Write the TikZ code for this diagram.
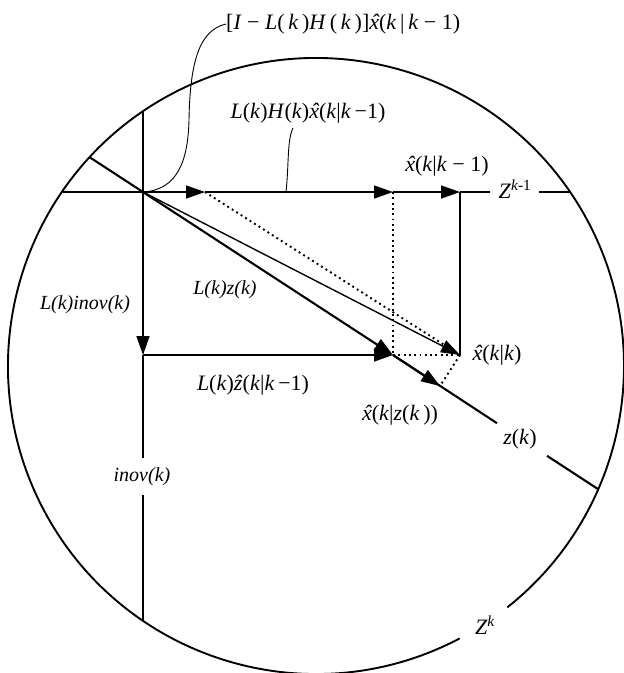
\documentclass[tikz,border=0pt]{standalone}
\usepackage{fontspec}
\setmainfont{Liberation Serif}
\usetikzlibrary{arrows.meta}
\newcommand{\xh}{{\itshape\ooalign{x\cr\hidewidth\kern0.06em\char"02C6\hidewidth\cr}}}
\newcommand{\zh}{\textit{\^{z}}}
\newcommand{\iv}[1]{\textit{#1}}
\tikzset{
  lbl/.style={inner sep=0pt, font=\fontsize{22}{26}\selectfont},
  ilbl/.style={inner sep=0pt, font=\fontsize{20}{24}\selectfont\itshape},
  tip/.style={-{Triangle[length=19pt,width=13pt]}},
  plain/.style={line width=1.4pt},
  vec/.style={plain, tip},
  heavy/.style={line width=2.1pt},
  dots/.style={line width=1.9pt, dash pattern=on 1.9pt off 3.4pt},
  leader/.style={line width=0.9pt},
  rim/.style={line width=1.9pt}
}
\begin{document}
\begin{tikzpicture}[x=1pt,y=-1pt]
\useasboundingbox (0,0) rectangle (624,673);
% the set Z^k (circle with a gap for its label)
\coordinate (ctr) at (316,366);
\draw[rim] (ctr) ++(62.2:308) arc[start angle=62.2, end angle=411.6, radius=308];
% points
\coordinate (O) at (143,192);
\coordinate (A) at (205,192);
\coordinate (B) at (393,192);
\coordinate (C) at (460,192);
\coordinate (D) at (143,355);
\coordinate (P) at (393,355);
\coordinate (Q) at (460,355);
\coordinate (R) at (440,386);
\coordinate (Hl) at (63,192);
\coordinate (Hm) at (490,192);
\coordinate (Hn) at (539,192);
\coordinate (Hr) at (570,192);
\coordinate (Vt) at (143,112);
\coordinate (Vg1) at (143,458);
\coordinate (Vg2) at (143,495);
\coordinate (Vb) at (143,621);
\coordinate (Zul) at (89.6,157.2);
\coordinate (Z1) at (497,423.2);
\coordinate (Z2) at (547,455.8);
\coordinate (Z3) at (598.2,489.2);
% Z^{k-1} line
\draw[plain] (Hl) -- (O);
\draw[vec] (O) -- (A);
\draw[vec] (A) -- (B);
\draw[vec] (B) -- (C);
\draw[plain] (C) -- (Hm);
\draw[plain] (Hn) -- (Hr);
% inov line
\draw[plain] (Vt) -- (O);
\draw[vec] (O) -- (D);
\draw[plain] (D) -- (Vg1);
\draw[plain] (Vg2) -- (Vb);
\draw[vec] (D) -- (P);
% z(k) line
\draw[heavy] (Zul) -- (O);
\draw[heavy, tip] (O) -- (P);
\draw[heavy] (P) -- (Z1);
\draw[heavy] (Z2) -- (Z3);
\draw[heavy, tip] (P) -- (R);
% estimate
\draw[vec] (O) -- (Q);
\draw[plain] (C) -- (Q);
% dotted construction lines
\draw[dots] (A) -- (Q);
\draw[dots] (B) -- (P);
\draw[dots] (P) -- (Q);
\draw[dots] (Q) -- (R);
% labels
\node[lbl, anchor=west] (l1) at (226,24) {[\iv{I} − \iv{L}(\,\iv{k}\,)\iv{H}\,(\,\iv{k}\,)]\xh(\iv{k}\,|\,\iv{k} − 1)};
\node[lbl] (l2) at (308,113) {\iv{L}(\iv{k})\iv{H}(\iv{k})\xh(\iv{k}|\iv{k}\,−1)};
\node[lbl] (l3) at (447,166) {\xh(\iv{k}|\iv{k} − 1)};
\node[lbl] (l4) at (515,189) {\iv{Z}\textsuperscript{\iv{k}-1}};
\node[ilbl] (l5) at (85,305) {L(k)inov(k)};
\node[ilbl] (l6) at (225,290) {L(k)z(k)};
\node[lbl] (l7) at (253,385) {\iv{L}(\iv{k})\zh(\iv{k}|\iv{k}\,−1)};
\node[lbl] (l8) at (497,355) {\xh(\iv{k}|\iv{k})};
\node[lbl] (l9) at (400,415) {\xh(\iv{k}|\iv{z}(\iv{k}\,))};
\node[lbl] (l10) at (520,439) {\iv{z}(\iv{k})};
\node[ilbl] (l11) at (142,477) {inov(k)};
\node[lbl] (l12) at (485,625) {\iv{Z}\textsuperscript{\iv{k}}};
% leaders
\draw[leader] (O) .. controls (178,190) and (188,160) .. (189,120) .. controls (190,60) and (200,30) .. (l1.west);
\draw[leader] (286,192) .. controls (289,165) and (287,140) .. (293,128);
\end{tikzpicture}
\end{document}
